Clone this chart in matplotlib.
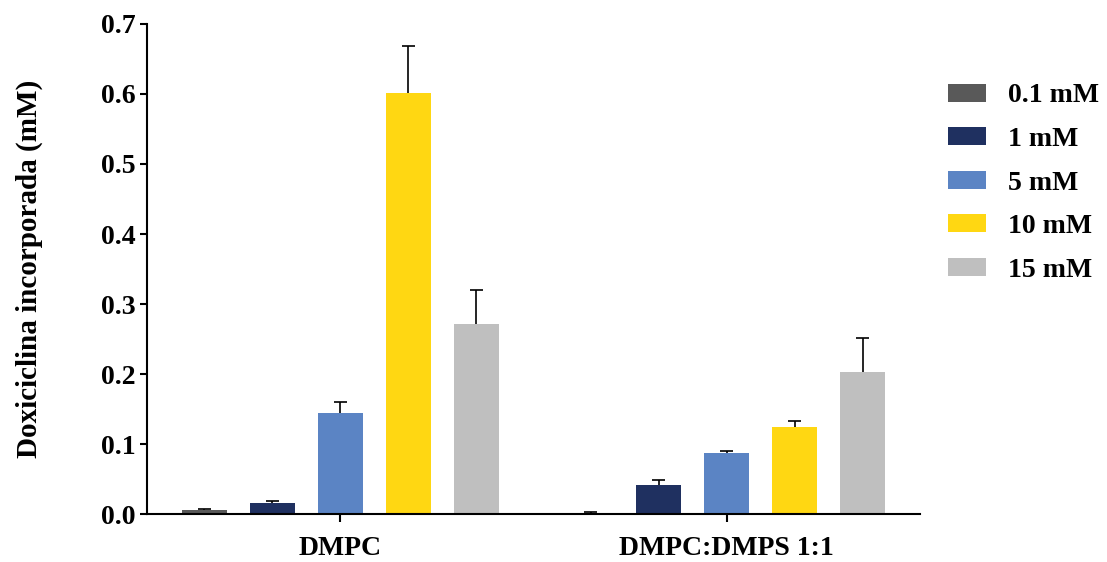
import numpy as np
import matplotlib
matplotlib.use("Agg")
import matplotlib.pyplot as plt

plt.rcParams['font.family'] = ['Liberation Serif', 'DejaVu Serif']
plt.rcParams['font.weight'] = 'bold'

groups = ['DMPC', 'DMPC:DMPS 1:1']
labels = ['0.1 mM', '1 mM', '5 mM', '10 mM', '15 mM']
colors = ['#595959', '#1f3060', '#5b84c4', '#ffd712', '#bfbfbf']

# mean values per concentration, one entry per group
means = [
    [0.006, 0.002],
    [0.016, 0.041],
    [0.144, 0.087],
    [0.601, 0.124],
    [0.271, 0.203],
]
# upper error (SD)
errs = [
    [0.001, 0.001],
    [0.002, 0.008],
    [0.016, 0.003],
    [0.068, 0.009],
    [0.049, 0.048],
]

fig = plt.figure(figsize=(11.07, 5.62), dpi=100)
ax = fig.add_axes([0.1328, 0.0854, 0.6982, 0.8719])

x = np.arange(len(groups))
step = 68 / 386
width = 45 / 386
cap = 6.5 / 386
for i, (lab, col) in enumerate(zip(labels, colors)):
    pos = x + (i - 2) * step
    m = np.array(means[i])
    top = m + np.array(errs[i])
    ax.bar(pos, m, width, color=col, label=lab, zorder=2)
    # upper-only error bars
    ax.vlines(pos, m, top, color='black', lw=1.2, zorder=3)
    ax.hlines(top, pos - cap, pos + cap, color='black', lw=1.2, zorder=3)

ax.set_xlim(-0.5, 1.5)
ax.set_ylim(0, 0.7)
ax.set_yticks(np.arange(0, 0.71, 0.1))
ax.set_yticklabels(['0.0', '0.1', '0.2', '0.3', '0.4', '0.5', '0.6', '0.7'])
ax.set_xticks(x)
ax.set_xticklabels(groups)
ax.tick_params(axis='y', direction='out', length=5, width=1.5, labelsize=20, pad=3)
ax.tick_params(axis='x', direction='inout', length=11, width=1.5, labelsize=20, pad=10)
for s in ['top', 'right']:
    ax.spines[s].set_visible(False)
for s in ['left', 'bottom']:
    ax.spines[s].set_linewidth(1.5)

ax.set_ylabel('Doxiciclina incorporada (mM)', fontsize=21, fontweight='bold', labelpad=42)

ax.legend(loc='upper left', bbox_to_anchor=(1.004, 0.93), frameon=False,
          fontsize=20, handlelength=1.37, handleheight=0.62, labelspacing=0.67,
          handletextpad=0.8)

fig.savefig('out.png', dpi=100)
